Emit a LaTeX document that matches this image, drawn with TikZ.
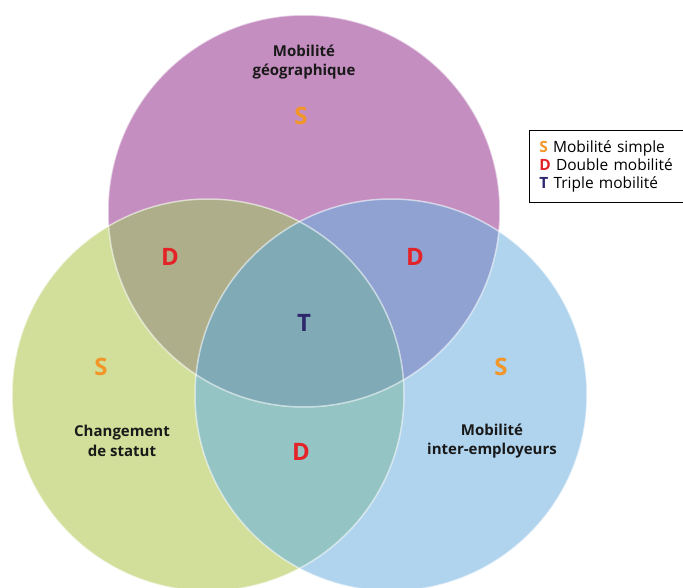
\documentclass[tikz,border=0pt]{standalone}
\usepackage{fontspec}
\setmainfont{Open Sans}
\definecolor{ctop}{RGB}{196,142,192}
\definecolor{cleft}{RGB}{209,223,154}
\definecolor{cright}{RGB}{176,211,238}
\definecolor{ctl}{RGB}{174,175,138}
\definecolor{ctr}{RGB}{143,162,209}
\definecolor{clr}{RGB}{148,196,196}
\definecolor{call}{RGB}{128,170,182}
\definecolor{cS}{RGB}{243,150,40}
\definecolor{cD}{RGB}{228,35,40}
\definecolor{cT}{RGB}{45,40,110}
\begin{document}
\begin{tikzpicture}[x=1pt,y=-1pt,
  setlabel/.style={font=\fontsize{15}{19.5}\selectfont\bfseries, align=center, text=black!90, inner sep=0pt},
  zone/.style={font=\fontsize{24}{24}\selectfont\bfseries, inner sep=0pt},
  rim/.style={draw=white, draw opacity=0.55, line width=1.5pt}]
\useasboundingbox (0,0) rectangle (683,587);
\clip (0,0) rectangle (683,587);
\coordinate (T) at (304,211);
\coordinate (L) at (208,395);
\coordinate (R) at (391,395);
\def\rr{196pt}
\fill[ctop] (T) circle[radius=\rr];
\fill[cleft] (L) circle[radius=\rr];
\fill[cright] (R) circle[radius=\rr];
\begin{scope}
  \clip (T) circle[radius=\rr];
  \fill[ctl] (L) circle[radius=\rr];
  \fill[ctr] (R) circle[radius=\rr];
\end{scope}
\begin{scope}
  \clip (L) circle[radius=\rr];
  \fill[clr] (R) circle[radius=\rr];
\end{scope}
\begin{scope}
  \clip (T) circle[radius=\rr];
  \clip (L) circle[radius=\rr];
  \fill[call] (R) circle[radius=\rr];
\end{scope}
\draw[rim] (T) circle[radius=\rr];
\draw[rim] (L) circle[radius=\rr];
\draw[rim] (R) circle[radius=\rr];
% labels
\node[setlabel] (geo) at (304,62) {Mobilité\\géographique};
\node[setlabel] (stat) at (122,441) {Changement\\de statut};
\node[setlabel] (emp) at (492,441) {Mobilité\\inter-employeurs};
% zones
\node[zone, text=cS] (s1) at (301,116) {S};
\node[zone, text=cS] (s2) at (101,367) {S};
\node[zone, text=cS] (s3) at (501,367) {S};
\node[zone, text=cD] (d1) at (170,257) {D};
\node[zone, text=cD] (d2) at (415,257) {D};
\node[zone, text=cD] (d3) at (301,452) {D};
\node[zone, text=cT] (t1) at (304,323) {T};
% legend
\node[draw=black, line width=0.8pt, anchor=north west, minimum width=153pt, minimum height=72pt,
  inner xsep=10pt, align=left, font=\fontsize{15.5}{18}\selectfont, text width=135pt] (legend) at (529,130)
  {{\bfseries\color{cS}S} Mobilité simple\\
   {\bfseries\color{cD}D} Double mobilité\\
   {\bfseries\color{cT}T} Triple mobilité};
\end{tikzpicture}
\end{document}
